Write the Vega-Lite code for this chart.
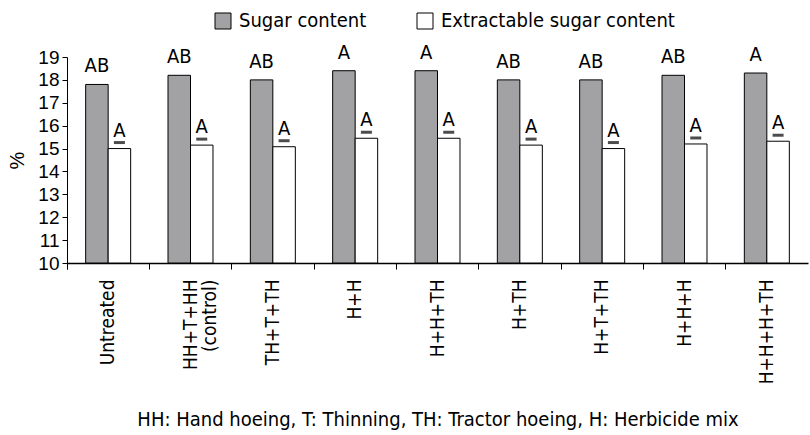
{
  "$schema": "https://vega.github.io/schema/vega-lite/v6.json",
  "width": 741,
  "height": 206,
  "autosize": {"type": "none"},
  "padding": {"left": 67, "top": 57, "right": 2, "bottom": 172},
  "background": "white",
  "config": {"view": {"stroke": null}, "font": "DejaVu Sans Condensed"},
  "data": {
    "values": [
      {"treatment": "Untreated", "series": "Sugar content", "value": 17.8, "letter": "AB"},
      {"treatment": "Untreated", "series": "Extractable sugar content", "value": 15.0, "letter": "A"},
      {"treatment": "HH+T+HH|(control)", "series": "Sugar content", "value": 18.2, "letter": "AB"},
      {"treatment": "HH+T+HH|(control)", "series": "Extractable sugar content", "value": 15.15, "letter": "A"},
      {"treatment": "TH+T+TH", "series": "Sugar content", "value": 18.0, "letter": "AB"},
      {"treatment": "TH+T+TH", "series": "Extractable sugar content", "value": 15.08, "letter": "A"},
      {"treatment": "H+H", "series": "Sugar content", "value": 18.4, "letter": "A"},
      {"treatment": "H+H", "series": "Extractable sugar content", "value": 15.45, "letter": "A"},
      {"treatment": "H+H+TH", "series": "Sugar content", "value": 18.4, "letter": "A"},
      {"treatment": "H+H+TH", "series": "Extractable sugar content", "value": 15.45, "letter": "A"},
      {"treatment": "H+TH", "series": "Sugar content", "value": 18.0, "letter": "AB"},
      {"treatment": "H+TH", "series": "Extractable sugar content", "value": 15.15, "letter": "A"},
      {"treatment": "H+T+TH", "series": "Sugar content", "value": 18.0, "letter": "AB"},
      {"treatment": "H+T+TH", "series": "Extractable sugar content", "value": 15.0, "letter": "A"},
      {"treatment": "H+H+H", "series": "Sugar content", "value": 18.2, "letter": "AB"},
      {"treatment": "H+H+H", "series": "Extractable sugar content", "value": 15.2, "letter": "A"},
      {"treatment": "H+H+H+TH", "series": "Sugar content", "value": 18.3, "letter": "A"},
      {"treatment": "H+H+H+TH", "series": "Extractable sugar content", "value": 15.32, "letter": "A"}
    ]
  },
  "encoding": {
    "x": {
      "field": "treatment",
      "type": "nominal",
      "sort": null,
      "scale": {"paddingInner": 0, "paddingOuter": 0},
      "axis": {
        "title": "HH: Hand hoeing, T: Thinning, TH: Tractor hoeing, H: Herbicide mix",
        "titleFont": "DejaVu Sans Condensed",
        "titleFontSize": 20,
        "titleFontWeight": "normal",
        "titleColor": "black",
        "titleY": 146,
        "titleBaseline": "top",
        "labelExpr": "split(datum.label, '|')",
        "labelAngle": -90,
        "labelAlign": "right",
        "labelBaseline": "middle",
        "labelFont": "DejaVu Sans Condensed",
        "labelFontSize": 19,
        "labelColor": "black",
        "labelPadding": 10,
        "labelLineHeight": 19,
        "labelOverlap": false,
        "bandPosition": 0,
        "tickExtra": true,
        "tickSize": 6,
        "tickColor": "black",
        "domainColor": "black",
        "domainWidth": 1.5
      }
    },
    "xOffset": {
      "field": "series",
      "type": "nominal",
      "sort": ["Sugar content", "Extractable sugar content"],
      "scale": {"paddingInner": 0, "paddingOuter": 0.83}
    },
    "y": {
      "field": "value",
      "type": "quantitative",
      "scale": {"domain": [10, 19], "zero": false, "nice": false},
      "axis": {
        "title": "%",
        "titleFont": "Liberation Sans",
        "titleFontSize": 20,
        "titleFontWeight": "normal",
        "titleColor": "black",
        "titlePadding": 10,
        "values": [10, 11, 12, 13, 14, 15, 16, 17, 18, 19],
        "labelOverlap": false,
        "labelFlush": false,
        "labelFont": "Liberation Sans",
        "labelFontSize": 19,
        "labelColor": "black",
        "labelPadding": 3,
        "tickSize": 5,
        "tickColor": "black",
        "domainColor": "black",
        "grid": false
      }
    }
  },
  "layer": [
    {
      "mark": {"type": "bar", "stroke": "black", "strokeWidth": 1},
      "encoding": {
        "y2": {"datum": 10},
        "color": {
          "field": "series",
          "type": "nominal",
          "scale": {"domain": ["Sugar content", "Extractable sugar content"], "range": ["#a2a2a5", "#ffffff"]},
          "legend": {
            "title": null,
            "orient": "none",
            "legendX": 146,
            "legendY": -46,
            "direction": "horizontal",
            "symbolType": "square",
            "symbolSize": 256,
            "symbolStrokeColor": "black",
            "symbolStrokeWidth": 1,
            "symbolOpacity": 1,
            "labelFont": "DejaVu Sans Condensed",
            "labelFontSize": 20,
            "labelColor": "black",
            "labelOffset": 6,
            "labelLimit": 400,
            "columnPadding": 48
          }
        }
      }
    },
    {
      "mark": {"type": "text", "baseline": "bottom", "dy": -8, "fontSize": 20, "font": "DejaVu Sans Condensed", "color": "black"},
      "encoding": {
        "text": {"field": "letter"}
      }
    },
    {
      "transform": [{"filter": "datum.series == 'Extractable sugar content'"}],
      "mark": {"type": "tick", "orient": "horizontal", "color": "black", "thickness": 3, "size": 11, "yOffset": -6},
      "encoding": {}
    }
  ]
}
